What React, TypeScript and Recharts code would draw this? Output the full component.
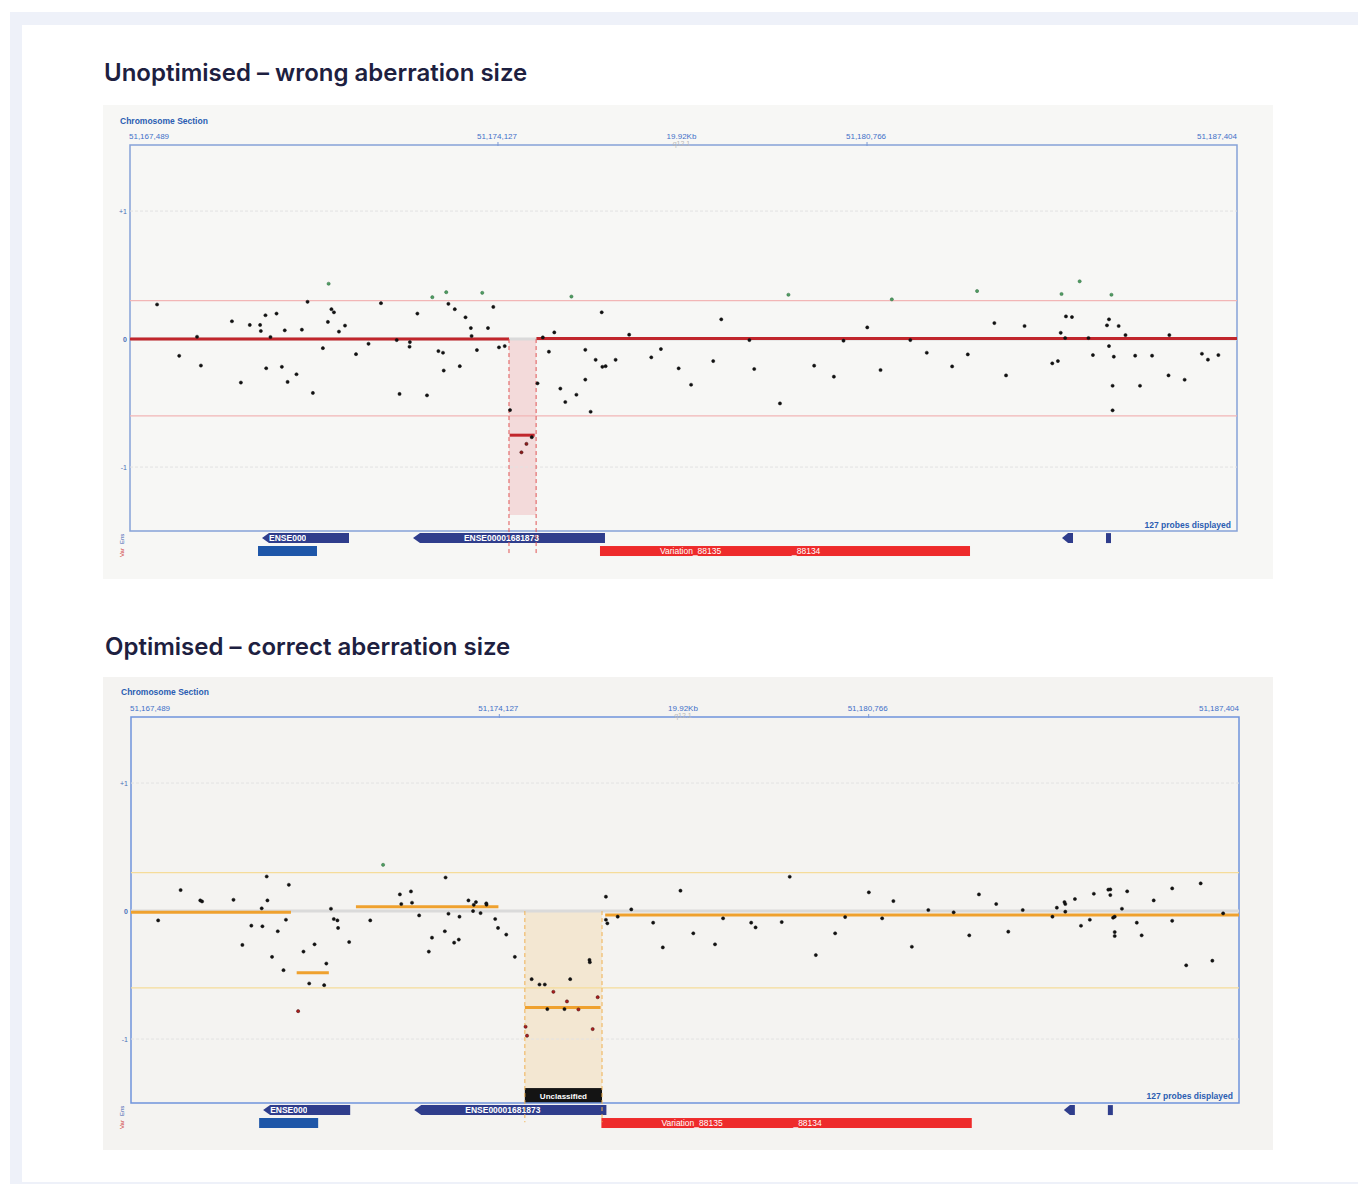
import React from "react";
import { ScatterChart, Scatter, XAxis, YAxis, ReferenceLine, ReferenceArea } from "recharts";

// chromosome section shown in both panels (bp)
const SECTION_START = 51167489;
const SECTION_END = 51187404;
const SPAN_LABEL = "19.92Kb";
const BAND_LABEL = "q12.1";
const posTicks = [51167489, 51174127, 51177446, 51180766, 51187404];
const logTicks = [-1, 0, 1];
const thresholds = [0.3, -0.6];
const PROBE_COUNT = 127;

// y range: plot frame goes down to -1.5, the rest is the track area
const Y_MIN = -1.734;
const Y_MAX = 1.516;
const FRAME_BOTTOM = -1.5;
const EXON_ROW: [number, number] = [-1.594, -1.516];
const BLOCK_ROW: [number, number] = [-1.695, -1.617];

type Pt = [number, number]; // [offset from section start (bp), log2 ratio]
type Seg = [number, number, number]; // [from, to, level]

// ---------- unoptimised ----------
const unoptBlack: Pt[] = [
  [487, 0.27], [885, -0.131], [1206, 0.018], [1276, -0.207], [1834, 0.139], [1995, -0.34],
  [2155, 0.11], [2341, 0.11], [2354, 0.063], [2437, 0.186], [2450, -0.228], [2527, 0.016],
  [2636, 0.199], [2732, -0.217], [2784, 0.068], [2835, -0.335], [2995, -0.275], [3092, 0.073],
  [3194, 0.291], [3290, -0.421], [3470, -0.071], [3560, 0.134], [3624, 0.233], [3669, 0.209],
  [3759, 0.058], [3868, 0.105], [4066, -0.118], [4291, -0.037], [4515, 0.28], [4798, -0.008],
  [4849, -0.429], [5035, -0.024], [5029, -0.06], [5170, 0.199], [5343, -0.44], [5548, -0.094],
  [5631, -0.107], [5644, -0.246], [5728, 0.275], [5843, 0.233], [5933, -0.212], [6036, 0.17],
  [6132, 0.086], [6145, 0.024], [6241, -0.086], [6440, 0.086], [6536, 0.251], [6638, -0.065],
  [6741, -0.055], [6837, -0.555], [7228, -0.767], [7331, -0.346], [7427, 0.013], [7536, -0.099],
  [7633, 0.052], [7742, -0.387], [7831, -0.492], [8031, -0.435], [8191, -0.084], [8191, -0.317],
  [8287, -0.568], [8377, -0.162], [8486, 0.209], [8498, -0.217], [8556, -0.212], [8736, -0.162],
  [8980, 0.034], [9378, -0.143], [9551, -0.078], [9870, -0.229], [10094, -0.357], [10492, -0.172],
  [10637, 0.154], [11143, -0.008], [11230, -0.234], [11693, -0.503], [12308, -0.208], [12663, -0.294],
  [12836, -0.013], [13263, 0.091], [13502, -0.242], [14038, -0.008], [14334, -0.107], [14790, -0.214],
  [15072, -0.12], [15550, 0.125], [15760, -0.284], [16093, 0.102], [16592, -0.19], [16693, -0.172],
  [16744, 0.049], [16838, 0.177], [16946, 0.172], [16824, 0.008], [17243, 0.008], [17323, -0.125],
  [17576, 0.107], [17612, 0.154], [17612, -0.055], [17699, -0.138], [17677, -0.365], [17677, -0.557],
  [17786, 0.102], [17909, 0.031], [18083, -0.13], [18170, -0.365], [18387, -0.13], [18683, -0.284],
  [18698, 0.031], [18973, -0.318], [19284, -0.115], [19392, -0.161], [19580, -0.125],
];
const unoptGreen: Pt[] = [
  [3573, 0.432], [5439, 0.327], [5689, 0.366], [6337, 0.361], [7941, 0.332],
  [11845, 0.346], [13705, 0.31], [15239, 0.375], [16758, 0.352], [17084, 0.451], [17656, 0.346],
];
const unoptRed: Pt[] = [[7042, -0.885], [7132, -0.819]];
const unoptSegments: Seg[] = [[0, 6818, 0], [7312, 19915, 0.005], [6831, 7280, -0.751]];
const unoptCall: [number, number] = [6818, 7306];

// ---------- optimised ----------
const optBlack: Pt[] = [
  [488, -0.073], [892, 0.164], [1245, 0.083], [1277, 0.075], [1842, 0.088], [2002, -0.265],
  [2163, -0.114], [2349, 0.021], [2362, -0.119], [2439, 0.27], [2452, 0.083], [2535, -0.358],
  [2638, -0.158], [2741, -0.462], [2785, -0.068], [2837, 0.205], [3100, -0.317], [3203, -0.566],
  [3299, -0.26], [3472, -0.579], [3511, -0.41], [3594, 0.018], [3645, -0.062], [3710, -0.073],
  [3722, -0.132], [3921, -0.242], [4300, -0.073], [4833, 0.13], [4858, 0.055], [5032, 0.153],
  [5051, 0.065], [5179, -0.034], [5353, -0.317], [5410, -0.208], [5641, -0.158], [5654, 0.262],
  [5706, -0.021], [5808, -0.247], [5892, -0.223], [5904, -0.044], [6065, 0.083], [6148, 0],
  [6161, 0.049], [6200, 0.07], [6283, -0.016], [6386, 0.06], [6390, 0.05], [6546, -0.062],
  [6597, -0.132], [6745, -0.184], [6899, -0.358], [7201, -0.532], [7342, -0.574], [7438, -0.574],
  [7483, -0.766], [7791, -0.766], [7894, -0.532], [8241, -0.382], [8247, -0.4], [8536, 0.112],
  [8536, -0.068], [8562, -0.096], [8748, -0.044], [8992, 0.013], [9385, -0.091], [9559, -0.284],
  [9876, 0.159], [10107, -0.174], [10497, -0.26], [10642, -0.057], [11147, -0.091], [11226, -0.128],
  [11696, -0.086], [11840, 0.268], [12309, -0.344], [12656, -0.174], [12836, -0.047], [13262, 0.146],
  [13501, -0.057], [13703, 0.078], [14035, -0.279], [14331, 0.008], [14786, -0.01], [15067, -0.19],
  [15241, 0.13], [15551, 0.055], [15768, -0.161], [16028, 0.008], [16562, -0.044], [16641, 0.026],
  [16778, 0.07], [16793, 0.055], [16793, -0.005], [16966, 0.094], [17075, -0.115], [17234, -0.068],
  [17306, 0.135], [17566, 0.167], [17602, 0.169], [17602, 0.125], [17652, -0.052], [17681, -0.044],
  [17681, -0.164], [17681, -0.195], [17811, 0.018], [17905, 0.154], [18078, -0.091], [18165, -0.19],
  [18382, 0.083], [18714, 0.177], [18714, -0.076], [18966, -0.424], [19226, 0.216], [19436, -0.388],
  [19630, -0.018],
];
const optGreen: Pt[] = [[4531, 0.361]];
const optRed: Pt[] = [
  [3004, -0.782], [7092, -0.904], [7118, -0.974], [7592, -0.631], [7836, -0.706],
  [8042, -0.769], [8298, -0.922], [8388, -0.673],
];
const optSegments: Seg[] = [
  [0, 2875, -0.01], [2978, 3556, -0.483], [4043, 6604, 0.034], [7079, 8440, -0.753], [8523, 19915, -0.031],
];
const optCall: [number, number] = [7079, 8466];

// ---------- annotation tracks ----------
const exons = [
  { from: 2375, to: 3940, label: "ENSE00001681874", clip: 37, align: "start" },
  { from: 5091, to: 8545, label: "ENSE00001681873", clip: 0, align: "middle" },
  { from: 16767, to: 16965, label: "", clip: 0, align: "start" },
];
const exonBlocks = [{ from: 17558, to: 17648 }];
const geneBlocks = [{ from: 2303, to: 3364 }];
const variations = [{ from: 8455, to: 15112, labels: ["Variation_88135", "_88134"] }];
const trackNames = ["Ens", "Var"];

const AX_FONT = "'Liberation Sans', Arial, sans-serif";

const toXY = (arr: Pt[]) => arr.map(([o, v]) => ({ x: SECTION_START + o, y: v }));

const dot = (fill: string, stroke: string) => (p: any) =>
  <circle cx={p.cx} cy={p.cy} r={1.6} fill={fill} stroke={stroke} strokeWidth={0.5} />;

function TopTick(props: any) {
  const { x, payload } = props;
  const v = payload.value;
  if (v === posTicks[2]) {
    return (
      <g>
        <text x={x - 2} y={34} textAnchor="middle" fontSize={8} fill="#3f70c8" fontFamily={AX_FONT}>{SPAN_LABEL}</text>
        <text x={x - 2} y={41} textAnchor="middle" fontSize={7} fill="#b8b8b8" fontFamily={AX_FONT}>{BAND_LABEL}</text>
      </g>
    );
  }
  const anchor = v === SECTION_START ? "start" : v === SECTION_END ? "end" : "middle";
  return (
    <g>
      <text x={x + (anchor === "start" ? -1 : anchor === "middle" ? -2 : 0)} y={34} textAnchor={anchor} fontSize={8}
        fill="#3f70c8" fontFamily={AX_FONT}>
        {v.toLocaleString("en-US")}
      </text>
      {anchor === "middle" && <line x1={x - 1} x2={x - 1} y1={37} y2={41} stroke="#7b9ad6" />}
    </g>
  );
}

const yTick = (left: number) => (p: any) => (
  <text x={left - 3} y={p.y} dy={2.5} textAnchor="end" fontSize={7} fontWeight={p.payload.value === 0 ? 700 : 400}
    fill="#4a70b8" fontFamily={AX_FONT}>
    {p.payload.value > 0 ? "+" + p.payload.value : p.payload.value}
  </text>
);

const exonShape = (label: string, clip: number, align: string) => (p: any) => {
  const { x, y, width, height } = p;
  const tip = Math.min(7, width * 0.55);
  const pts = `${x},${y + height / 2} ${x + tip},${y} ${x + width},${y} ${x + width},${y + height} ${x + tip},${y + height}`;
  const w = clip || width - tip;
  return (
    <g>
      <polygon points={pts} fill="#2f3d8c" />
      {label && (
        <svg x={x + tip} y={y} width={w} height={height} overflow="hidden">
          <text x={align === "middle" ? w / 2 - 11 : 0} y={height / 2 + 3} textAnchor={align} fontSize={8.5} fontWeight={700}
            fill="#fff" fontFamily={AX_FONT}>{label}</text>
        </svg>
      )}
    </g>
  );
};

const variationShape = (labels: string[]) => (p: any) => {
  const { x, y, width, height } = p;
  return (
    <g>
      <rect x={x} y={y} width={width} height={height} fill="#ee2b2b" />
      <text x={x + 60} y={y + height / 2 + 3} fontSize={8.5} fill="#fff" fontFamily={AX_FONT}>{labels[0]}</text>
      <text x={x + 192} y={y + height / 2 + 3} fontSize={8.5} fill="#fff" fontFamily={AX_FONT}>{labels[1]}</text>
    </g>
  );
};

const unclassifiedShape = (p: any) => (
  <g>
    <rect x={p.x} y={p.y} width={p.width} height={p.height} fill="#141414" />
    <text x={p.x + p.width / 2} y={p.y + p.height / 2 + 3} textAnchor="middle" fontSize={8} fontWeight={700} fill="#fff"
      fontFamily={AX_FONT}>Unclassified</text>
  </g>
);

interface PanelProps {
  black: Pt[];
  green: Pt[];
  red: Pt[];
  segments: Seg[];
  call: [number, number];
  callBottom: number;
  dashBottom: number;
  segColor: string;
  callFill: string;
  dashColor: string;
  thresholdColor: string;
  frameColor: string;
  redDot: string;
  left: number;
  right: number;
  unclassified?: boolean;
}

function CghPanel(pr: PanelProps) {
  const x0 = (o: number) => SECTION_START + o;
  return (
    <ScatterChart width={1170} height={474} margin={{ top: 20, right: pr.right, bottom: 18, left: pr.left - 20 }}>
      <XAxis type="number" dataKey="x" orientation="top" domain={[SECTION_START, SECTION_END]} ticks={posTicks}
        tick={TopTick} axisLine={false} tickLine={false} height={20} allowDataOverflow interval={0} />
      <YAxis type="number" dataKey="y" domain={[Y_MIN, Y_MAX]} ticks={logTicks} tick={yTick(pr.left)}
        axisLine={false} tickLine={false} width={20} allowDataOverflow interval={0} />

      <ReferenceArea x1={x0(pr.call[0])} x2={x0(pr.call[1])} y1={pr.callBottom} y2={0} fill={pr.callFill} fillOpacity={1} stroke="none" />
      {logTicks.filter((t) => t !== 0).map((t) => (
        <ReferenceLine key={t} y={t} stroke="#e2e2e2" strokeDasharray="3 2" />
      ))}
      {thresholds.map((t) => (
        <ReferenceLine key={t} y={t} stroke={pr.thresholdColor} strokeWidth={1.4} />
      ))}
      <ReferenceLine y={0} stroke="#dadada" strokeWidth={3} />
      {pr.segments.map(([a, b, v], i) => (
        <ReferenceLine key={i} segment={[{ x: x0(a), y: v }, { x: x0(b), y: v }]} stroke={pr.segColor} strokeWidth={3} ifOverflow="visible" />
      ))}

      {exons.map((e, i) => (
        <ReferenceArea key={"e" + i} x1={x0(e.from)} x2={x0(e.to)} y1={EXON_ROW[0]} y2={EXON_ROW[1]}
          shape={exonShape(e.label, e.clip, e.align)} />
      ))}
      {exonBlocks.map((e, i) => (
        <ReferenceArea key={"b" + i} x1={x0(e.from)} x2={x0(e.to)} y1={EXON_ROW[0]} y2={EXON_ROW[1]} fill="#2f3d8c" fillOpacity={1} />
      ))}
      {geneBlocks.map((g, i) => (
        <ReferenceArea key={"g" + i} x1={x0(g.from)} x2={x0(g.to)} y1={BLOCK_ROW[0]} y2={BLOCK_ROW[1]} fill="#1e56a8" fillOpacity={1} />
      ))}
      {variations.map((v, i) => (
        <ReferenceArea key={"v" + i} x1={x0(v.from)} x2={x0(v.to)} y1={BLOCK_ROW[0]} y2={BLOCK_ROW[1]} shape={variationShape(v.labels)} />
      ))}

      {pr.call.map((c, i) => (
        <ReferenceLine key={"d" + i} segment={[{ x: x0(c), y: 0 }, { x: x0(c), y: pr.dashBottom }]} stroke={pr.dashColor}
          strokeDasharray="4 3" strokeWidth={1} />
      ))}
      {pr.unclassified && (
        <ReferenceArea x1={x0(pr.call[0])} x2={x0(pr.call[1])} y1={FRAME_BOTTOM} y2={-1.383} shape={unclassifiedShape} />
      )}

      <ReferenceArea x1={SECTION_START} x2={SECTION_END} y1={FRAME_BOTTOM} y2={Y_MAX} fill="none" stroke={pr.frameColor} strokeWidth={1.5} />

      <Scatter data={toXY(pr.black)} shape={dot("#111", "#111")} isAnimationActive={false} />
      <Scatter data={toXY(pr.green)} shape={dot("#4f9d62", "#2d6b3c")} isAnimationActive={false} />
      <Scatter data={toXY(pr.red)} shape={dot(pr.redDot, "#3a0c0c")} isAnimationActive={false} />
    </ScatterChart>
  );
}

const sectionTitle: React.CSSProperties = {
  position: "absolute", fontFamily: AX_FONT, fontSize: 8.5, fontWeight: 700, color: "#2b5db2", lineHeight: "10px",
};
const tag = (text: string, color: string, top: number) => (
  <div style={{
    position: "absolute", left: 16, top, transform: "rotate(-90deg)", transformOrigin: "0 0",
    fontFamily: AX_FONT, fontSize: 6, lineHeight: "7px", color, whiteSpace: "nowrap",
  }}>{text}</div>
);
const trackTags = (
  <>
    {tag(trackNames[0], "#3a5ab0", 439)}
    {tag(trackNames[1], "#cc2a2a", 452)}
  </>
);

const headline: React.CSSProperties = {
  position: "absolute", fontFamily: "Inter, 'Open Sans', sans-serif", fontWeight: 600, fontSize: 24,
  color: "#1d2040", lineHeight: "28px", whiteSpace: "nowrap",
};

export default function App() {
  return (
    <div style={{ position: "absolute", left: 0, top: 0, width: 1358, height: 1184, background: "#fff", overflow: "hidden" }}>
      <div style={{ position: "absolute", left: 10, top: 12, width: 1348, height: 1172, background: "#eef1f9" }} />
      <div style={{ position: "absolute", left: 22, top: 25, width: 1336, height: 1157, background: "#fff" }} />

      <div style={{ ...headline, left: 104, top: 59 }}>Unoptimised – wrong aberration size</div>
      <div style={{ position: "absolute", left: 103, top: 105, width: 1170, height: 474, background: "#f7f7f5" }}>
        <CghPanel black={unoptBlack} green={unoptGreen} red={unoptRed} segments={unoptSegments} call={unoptCall}
          callBottom={-1.375} dashBottom={-1.695} segColor="#c1262c" callFill="#f3dada" dashColor="#e05555"
          thresholdColor="#f2b6b6" frameColor="#86a2d8" redDot="#8e1c1c" left={27} right={36} />
        <div style={{ ...sectionTitle, left: 17, top: 11 }}>Chromosome Section</div>
        <div style={{ ...sectionTitle, right: 1170 - 1128, top: 415 }}>{PROBE_COUNT} probes displayed</div>
        {trackTags}
      </div>

      <div style={{ ...headline, left: 105, top: 633 }}>Optimised – correct aberration size</div>
      <div style={{ position: "absolute", left: 103, top: 677, width: 1170, height: 473, background: "#f4f3f1" }}>
        <CghPanel black={optBlack} green={optGreen} red={optRed} segments={optSegments} call={optCall}
          callBottom={FRAME_BOTTOM} dashBottom={-1.65} segColor="#efa12e" callFill="#f3e7d2" dashColor="#f0b050"
          thresholdColor="#f5dc9a" frameColor="#6f94db" redDot="#b01c1c" left={28} right={34} unclassified />
        <div style={{ ...sectionTitle, left: 18, top: 10 }}>Chromosome Section</div>
        <div style={{ ...sectionTitle, right: 1170 - 1130, top: 414 }}>{PROBE_COUNT} probes displayed</div>
        {trackTags}
      </div>
    </div>
  );
}
